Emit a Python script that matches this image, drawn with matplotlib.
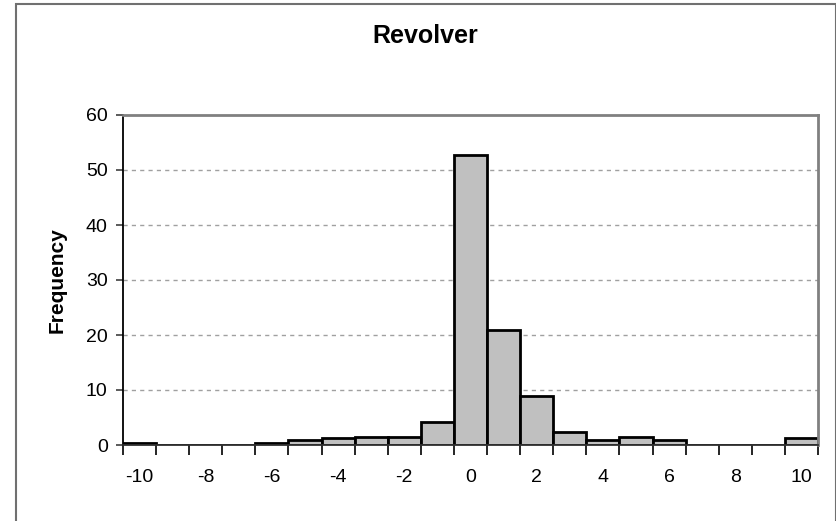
import matplotlib
matplotlib.use("Agg")
import matplotlib.pyplot as plt
from matplotlib.patches import Rectangle

categories = list(range(-10, 11))
frequencies = [0.35, 0, 0, 0, 0.3, 0.85, 1.2, 1.45, 1.45, 4.25,
               52.7, 21.0, 9.0, 2.4, 0.85, 1.45, 0.85, 0, 0, 0, 1.2]
x_tick_labels = [str(v) for v in range(-10, 11, 2)]
y_ticks = [0, 10, 20, 30, 40, 50, 60]

plt.rcParams['font.family'] = ['Liberation Sans', 'DejaVu Sans']

W, H = 837, 521
fig = plt.figure(figsize=(W / 100, H / 100), dpi=100)
fig.patch.set_facecolor('white')

# chart-area border
fig.patches.append(Rectangle((16 / W, -0.01), (836 - 16) / W, (H - 4) / H + 0.01,
                             transform=fig.transFigure, fill=False,
                             edgecolor='#707070', linewidth=1.5))

left, right, top, bottom = 123, 818, 115, 445
ax = fig.add_axes([left / W, (H - bottom) / H, (right - left) / W, (bottom - top) / H])

ax.bar(categories, frequencies, width=1.0, color='#C0C0C0', edgecolor='black',
       linewidth=2.0, zorder=3)

ax.set_xlim(-10.5, 10.5)
ax.set_ylim(0, 60)
ax.set_yticks(y_ticks)
ax.set_yticklabels([str(v) for v in y_ticks], fontsize=14)

# category boundary ticks (major, no label) and labels at every other category (minor)
ax.set_xticks([c - 0.5 for c in categories] + [categories[-1] + 0.5])
ax.set_xticklabels([])
ax.set_xticks(list(range(-10, 11, 2)), minor=True)
ax.set_xticklabels(x_tick_labels, minor=True, fontsize=14)
ax.tick_params(axis='x', which='major', direction='out', length=7, width=1.2, color='black')
ax.tick_params(axis='x', which='minor', length=0, pad=17)
ax.tick_params(axis='y', direction='out', length=5, width=1.2, color='#404040', pad=6)

for y in y_ticks[1:-1]:
    ax.axhline(y, color='#A0A0A0', linewidth=1.0, linestyle=(0, (3, 3)), zorder=1)

ax.spines['left'].set_color('black')
ax.spines['left'].set_linewidth(1.3)
ax.spines['bottom'].set_color('#303030')
ax.spines['bottom'].set_linewidth(1.3)
ax.spines['top'].set_color('#808080')
ax.spines['top'].set_linewidth(2)
ax.spines['right'].set_color('#808080')
ax.spines['right'].set_linewidth(2)
for s in ax.spines.values():
    s.set_zorder(4)

ax.set_ylabel('Frequency', fontsize=15, fontweight='bold', labelpad=14)
fig.text(425 / W, 1 - 36 / H, 'Revolver', ha='center', va='center',
         fontsize=18, fontweight='bold')

fig.savefig('out.png', dpi=100)
